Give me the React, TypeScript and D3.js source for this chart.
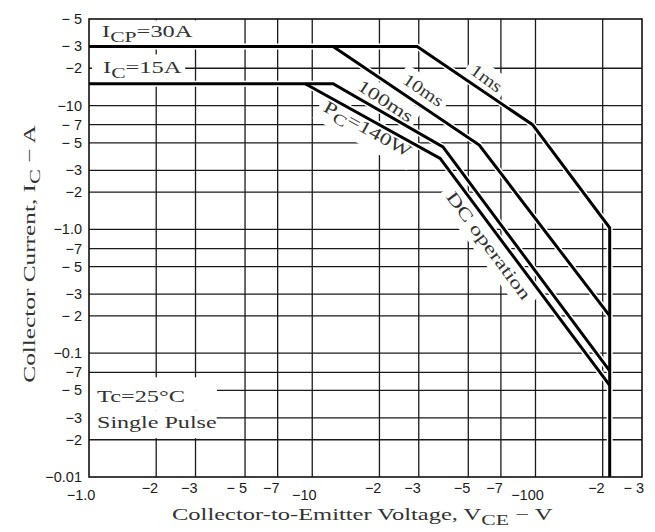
import React, { useEffect, useRef } from "react";
import * as d3 from "d3";

// Axis ticks (VCE in volts, IC in amps) and the labels as they are printed
const xTickValues = [1, 2, 3, 5, 7, 10, 20, 30, 50, 70, 100, 200, 300];
const xTickLabels = ["−1.0", "−2", "−3", "− 5", "−7", "−10", "−2", "−3", "−5", "−7", "−100", "−2", "− 3"];
const yTickValues = [50, 30, 20, 10, 7, 5, 3, 2, 1, 0.7, 0.5, 0.3, 0.2, 0.1, 0.07, 0.05, 0.03, 0.02, 0.01];
const yTickLabels = ["− 5", "− 3", "−2", "−10", "− 7", "− 5", "−3", "−2", "−1.0", "−7", "− 5", "−3", "− 2", "−0.1", "−7", "− 5", "−3", "−2", "−0.01"];

// grid lines
const xGridValues = [2, 3, 5, 7, 10, 20, 30, 50, 70, 100, 200];
const yGridValues = [20, 10, 7, 5, 3, 2, 1, 0.7, 0.5, 0.3, 0.2, 0.1, 0.07, 0.05, 0.03, 0.02];

// SOA boundaries
const vce1ms = [1, 29.5, 97, 215, 215];
const ic1ms = [30, 30, 7, 1.03, 0.01];
const vce10ms = [12.4, 56, 215];
const ic10ms = [30, 4.8, 0.2];
const vce100ms = [1, 12.4, 38.5, 215];
const ic100ms = [15, 15, 4.63, 0.072];
const vceDC = [9.3, 37.4, 215];
const icDC = [15, 3.74, 0.055];

type Part = [string, boolean?];

const App = () => {
  const svgRef = useRef<SVGSVGElement>(null);

  useEffect(() => {
    document.body.style.margin = "0";

    const dims = { width: 655, height: 532, left: 89, right: 642, top: 19, bottom: 477 };

    const svg = d3.select(svgRef.current)
      .attr("width", dims.width)
      .attr("height", dims.height);
    svg.selectAll("*").remove();

    const xScale = d3.scaleLog().domain([1, 300]).range([dims.left, dims.right]);
    const yScale = d3.scaleLog().domain([0.01, 50]).range([dims.bottom, dims.top]);

    svg.append("rect").attr("width", dims.width).attr("height", dims.height).attr("fill", "#fff");

    // layers, so that label boxes sit between grid and curves
    const gridG = svg.append("g");
    const boxG = svg.append("g");
    const curveG = svg.append("g");
    const frameG = svg.append("g");
    const textG = svg.append("g");

    // grid
    gridG.selectAll("line.vg").data(xGridValues).join("line")
      .attr("class", "vg")
      .attr("x1", d => xScale(d)).attr("x2", d => xScale(d))
      .attr("y1", dims.top).attr("y2", dims.bottom)
      .attr("stroke", "#1a1a1a").attr("stroke-width", 1.3);
    gridG.selectAll("line.hg").data(yGridValues).join("line")
      .attr("class", "hg")
      .attr("x1", dims.left).attr("x2", dims.right)
      .attr("y1", d => yScale(d)).attr("y2", d => yScale(d))
      .attr("stroke", "#1a1a1a").attr("stroke-width", 1.3);

    // curves: white halo first, then the black lines
    const lineGen = d3.line<[number, number]>()
      .x(d => xScale(d[0]))
      .y(d => yScale(d[1]));
    const curves = [
      d3.zip(vce1ms, ic1ms),
      d3.zip(vce10ms, ic10ms),
      d3.zip(vce100ms, ic100ms),
      d3.zip(vceDC, icDC),
    ] as [number, number][][];
    curves.forEach(c => {
      curveG.append("path").datum(c).attr("d", lineGen)
        .attr("fill", "none").attr("stroke", "#fff").attr("stroke-width", 6);
    });
    curves.forEach(c => {
      curveG.append("path").datum(c).attr("d", lineGen)
        .attr("fill", "none").attr("stroke", "#000").attr("stroke-width", 3)
        .attr("stroke-linejoin", "miter");
    });

    // frame
    frameG.append("rect")
      .attr("x", dims.left).attr("y", dims.top)
      .attr("width", dims.right - dims.left).attr("height", dims.bottom - dims.top)
      .attr("fill", "none").attr("stroke", "#111").attr("stroke-width", 1.6);

    // serif labels, stretched to the printed width, with optional white box behind
    const addLabel = (parts: Part[], x: number, y: number, angle: number, len: number,
      anchor: string, pad: number[] | null) => {
      const tr = `translate(${x},${y}) rotate(${angle})`;
      const g = textG.append("g").attr("transform", tr);
      const t = g.append("text")
        .attr("text-anchor", anchor)
        .attr("font-family", "'Liberation Serif', 'DejaVu Serif', serif")
        .attr("font-size", 17.5)
        .attr("fill", "#333");
      let shift = 0;
      parts.forEach(([s, sub]) => {
        const want = sub ? 5 : 0;
        t.append("tspan")
          .attr("dy", want - shift)
          .attr("font-size", sub ? 15.5 : 17.5)
          .text(s);
        shift = want;
      });
      const node = t.node() as SVGTextElement;
      const w = node.getBBox().width;
      const sx = len / w;
      t.attr("transform", `scale(${sx},1)`);
      if (pad) {
        const bb = node.getBBox();
        boxG.append("rect")
          .attr("transform", tr)
          .attr("x", bb.x * sx - pad[0])
          .attr("y", bb.y - pad[2])
          .attr("width", bb.width * sx + pad[0] + pad[1])
          .attr("height", bb.height + pad[2] + pad[3])
          .attr("fill", "#fff");
      }
    };

    addLabel([["I"], ["CP", true], ["=30A"]], 102, 37, 0, 91, "start", [13, 42, 1, 1]);
    addLabel([["I"], ["C", true], ["=15A"]], 103, 73, 0, 79, "start", [11, 3, 3, 0]);
    addLabel([["Tc=25°C"]], 97, 402, 0, 88, "start", [8, 32, 9, 4]);
    addLabel([["Single Pulse"]], 97, 428, 0, 120, "start", [8, 0, 2, 6]);

    addLabel([["1ms"]], xScale(58.2), yScale(17.0) + 6, 36, 35, "middle", [5, 5, 3, 3]);
    addLabel([["10ms"]], xScale(30.4), yScale(13.6) + 6, 34, 45, "middle", [5, 5, 3, 3]);
    addLabel([["100ms"]], xScale(20.8) - 1, yScale(10.5) + 3, 33, 63, "middle", [5, 5, 3, 3]);
    addLabel([["P"], ["C", true], ["=140W"]], xScale(17.2), yScale(6.71) + 7, 29, 98, "middle", [5, 5, 3, 3]);
    addLabel([["DC  operation"]], xScale(58.8), yScale(0.748) + 4, 53.5, 130, "middle", [6, 6, 4, 4]);

    // axis titles
    addLabel([["Collector-to-Emitter Voltage, V"], ["CE", true], ["  −  V"]], 172, 520, 0, 381, "start", null);
    addLabel([["Collector Current, I"], ["C", true], ["  −  A"]], 35, 254, -90, 258, "middle", null);

    // tick labels
    const tickFont = "'Liberation Sans', Arial, sans-serif";
    textG.selectAll("text.yt").data(yTickValues).join("text")
      .attr("class", "yt")
      .attr("x", dims.left - 7)
      .attr("y", d => yScale(d) + 5)
      .attr("text-anchor", "end")
      .attr("font-family", tickFont).attr("font-size", 14.5).attr("fill", "#1a1a1a")
      .text((d, i) => yTickLabels[i]);

    const isDecade = (d: number) => Math.abs(Math.log10(d) - Math.round(Math.log10(d))) < 1e-9;
    textG.selectAll("text.xt").data(xTickValues).join("text")
      .attr("class", "xt")
      .attr("x", d => isDecade(d) ? xScale(d) - 8 : xScale(d) + 2)
      .attr("y", d => isDecade(d) ? 500 : 493)
      .attr("text-anchor", d => isDecade(d) ? "middle" : "end")
      .attr("font-family", tickFont).attr("font-size", 14.5).attr("fill", "#1a1a1a")
      .text((d, i) => xTickLabels[i]);
  }, []);

  return <svg ref={svgRef}></svg>;
};

export default App;
